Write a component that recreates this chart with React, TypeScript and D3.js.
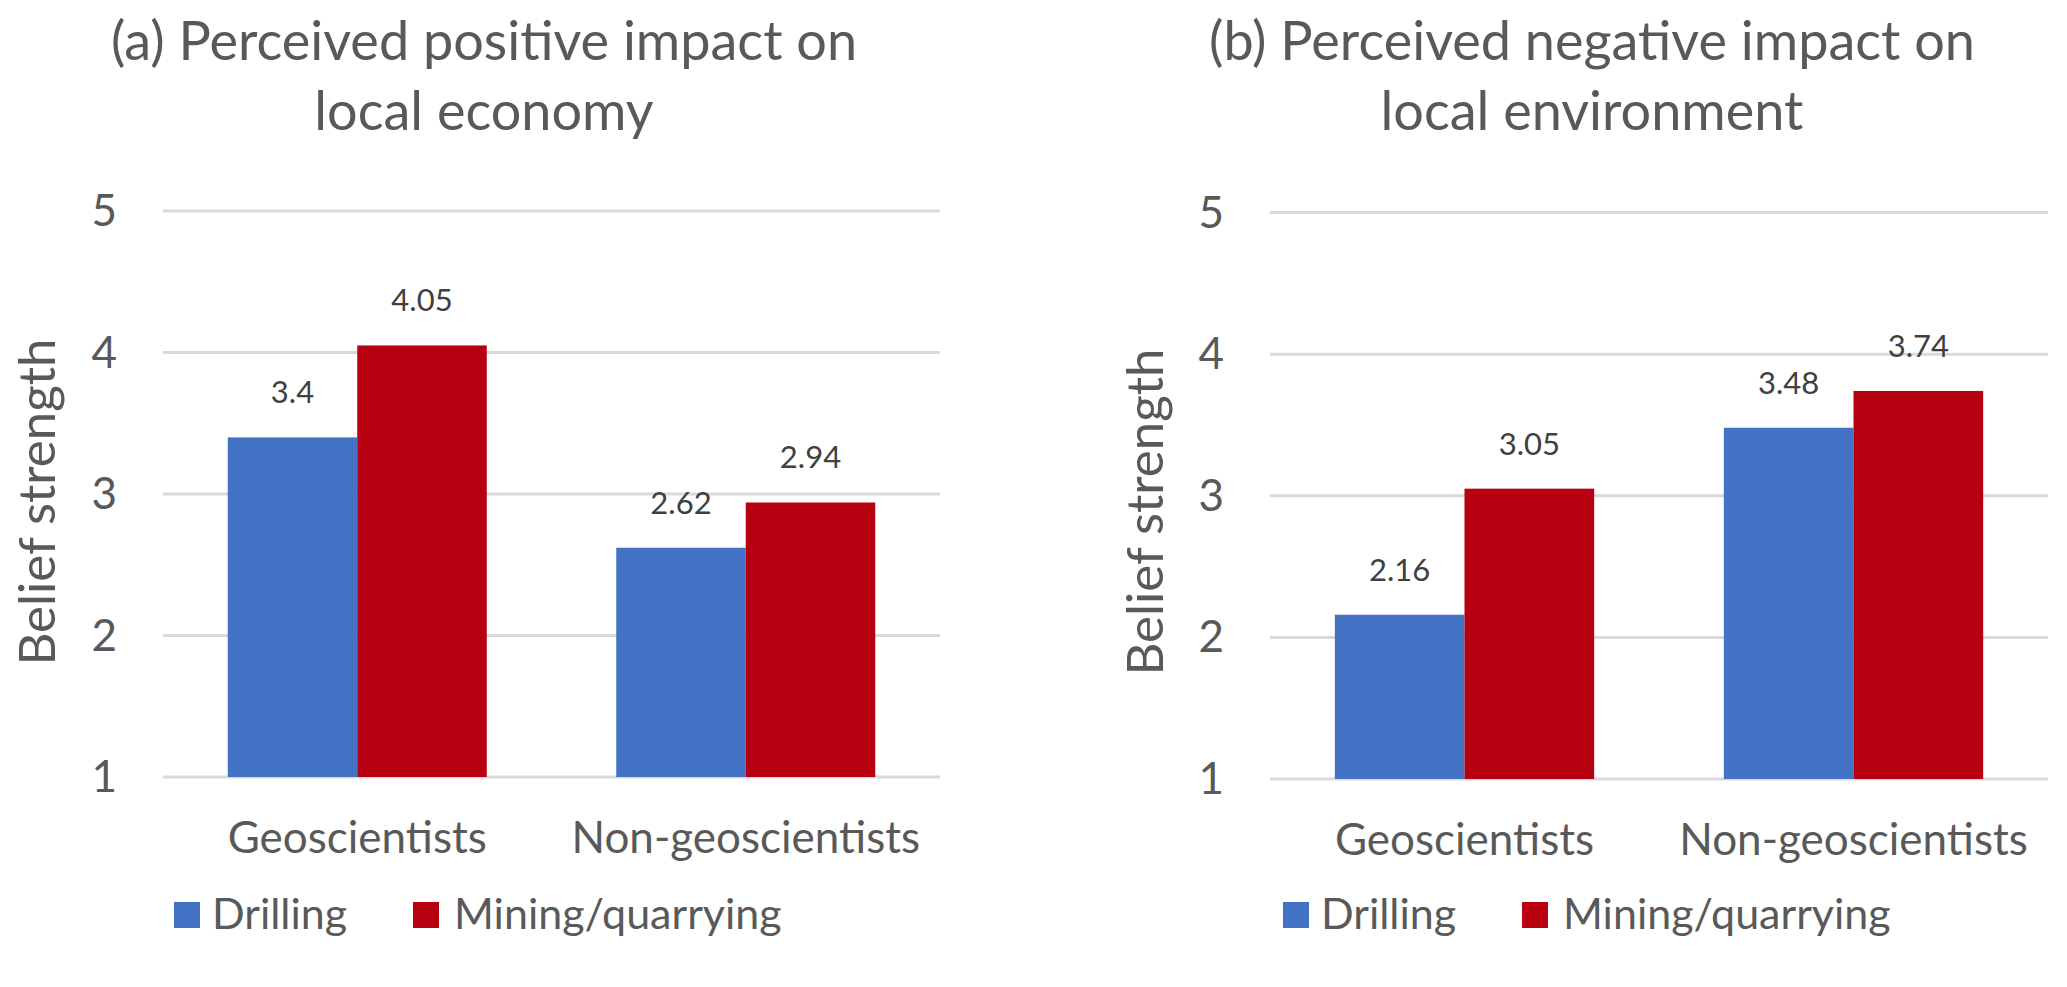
import { useMemo } from 'react'
import * as d3 from 'd3'

const categories = ['Geoscientists', 'Non-geoscientists']
const seriesNames = ['Drilling', 'Mining/quarrying']
const seriesColors = ['#4472C4', '#B70010']

// values per category: [drilling, mining]
const economyValues = [
  [3.4, 4.05],
  [2.62, 2.94],
]
const environmentValues = [
  [2.16, 3.05],
  [3.48, 3.74],
]
const yTicks = [1, 2, 3, 4, 5]

const FONT = 'Lato, "Open Sans", sans-serif'
const GREY = '#595959'

interface PanelProps {
  titleLines: string[]
  titleX: number
  values: number[][]
  plotLeft: number
  plotRight: number
  yTop: number
  yBottom: number
  axisLabelX: number
  axisLabelY: number
  legendX: number
}

function Panel({ titleLines, titleX, values, plotLeft, plotRight, yTop, yBottom, axisLabelX, axisLabelY, legendX }: PanelProps) {
  const y = useMemo(() => d3.scaleLinear().domain([1, 5]).range([yBottom, yTop]), [yTop, yBottom])
  const x0 = d3.scaleBand<string>().domain(categories).range([plotLeft, plotRight]).paddingInner(0).paddingOuter(0)
  const x1 = d3.scaleBand<string>().domain(seriesNames).range([0, x0.bandwidth()]).paddingInner(0).paddingOuter(0.5)
  const legendY = 902

  return (
    <g>
      {titleLines.map((line, i) => (
        <text key={line} x={titleX} y={60 + i * 70} textAnchor="middle"
          style={{ font: `54px ${FONT}`, fill: GREY }}>{line}</text>
      ))}

      {/* gridlines and tick labels */}
      {yTicks.map(t => (
        <g key={t}>
          <line x1={plotLeft} x2={plotRight} y1={y(t)} y2={y(t)} stroke="#D9D9D9" strokeWidth={3} />
          <text x={plotLeft - 46} y={y(t) + 15} textAnchor="end"
            style={{ font: `44px ${FONT}`, fill: GREY }}>{t}</text>
        </g>
      ))}

      <text transform={`translate(${axisLabelX},${axisLabelY}) rotate(-90)`} textAnchor="middle"
        dy="0.36em" style={{ font: `51px ${FONT}`, fill: GREY }}>Belief strength</text>

      {/* bars */}
      {categories.map((cat, ci) => (
        <g key={cat} transform={`translate(${x0(cat)},0)`}>
          {seriesNames.map((s, si) => {
            const v = values[ci][si]
            return (
              <g key={s}>
                <rect x={x1(s)} y={y(v)} width={x1.bandwidth()} height={y(1) - y(v)} fill={seriesColors[si]} />
                <text x={(x1(s) ?? 0) + x1.bandwidth() / 2} y={y(v) - 34} textAnchor="middle"
                  style={{ font: `31px ${FONT}`, fill: '#404040' }}>{v}</text>
              </g>
            )
          })}
          <text x={x0.bandwidth() / 2} y={yBottom + 76} textAnchor="middle"
            style={{ font: `44px ${FONT}`, fill: GREY }}>{cat}</text>
        </g>
      ))}

      {/* legend */}
      <rect x={legendX} y={legendY} width={26} height={26} fill={seriesColors[0]} />
      <text x={legendX + 38} y={legendY + 27} style={{ font: `43px ${FONT}`, fill: GREY }}>{seriesNames[0]}</text>
      <rect x={legendX + 239} y={legendY} width={26} height={26} fill={seriesColors[1]} />
      <text x={legendX + 280} y={legendY + 27} style={{ font: `43px ${FONT}`, fill: GREY }}>{seriesNames[1]}</text>
    </g>
  )
}

export default function App() {
  return (
    <div style={{ position: 'absolute', left: 0, top: 0 }}>
      <svg width={2067} height={987} style={{ display: 'block', background: '#fff' }}>
        <Panel titleLines={['(a) Perceived positive impact on', 'local economy']} titleX={484}
          values={economyValues} plotLeft={163} plotRight={940} yTop={211} yBottom={777}
          axisLabelX={37} axisLabelY={502} legendX={174} />
        <Panel titleLines={['(b) Perceived negative impact on', 'local environment']} titleX={1592}
          values={environmentValues} plotLeft={1270} plotRight={2048} yTop={212.5} yBottom={779}
          axisLabelX={1145} axisLabelY={512} legendX={1283} />
      </svg>
    </div>
  )
}
